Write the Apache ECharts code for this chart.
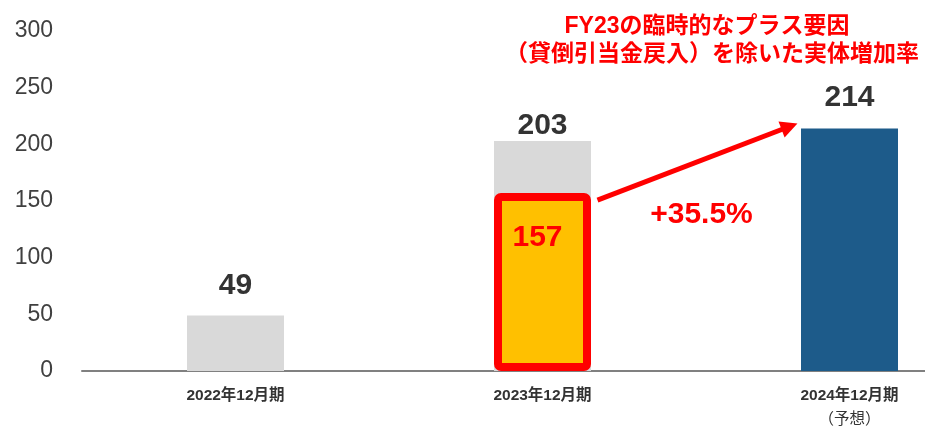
<!DOCTYPE html>
<html lang="ja">
  <head>
    <meta charset="utf-8" />
    <script type="text/javascript" src="https://cdn.jsdelivr.net/npm/echarts@6/dist/echarts.min.js"></script>
    <title>実体増加率</title>
    <style>
      html, body { margin: 0; padding: 0; background: #fff; }
      #chart { width: 925px; height: 426px; }
    </style>
  </head>
  <body>
    <div id="chart"></div>
    <script>
      // values
      var categories = ['2022年12月期', '2023年12月期', '2024年12月期']
      var subLabels = ['', '', '（予想）']
      var reported = [49, 203, 214]
      var adjusted = ['-', 157, '-']
      var growthText = '+35.5%'
      var noteLines = ['FY23の臨時的なプラス要因', '（貸倒引当金戻入）を除いた実体増加率']

      var FONT = '"Liberation Sans", Arial, "Noto Sans CJK JP", sans-serif'
      var barColors = ['#d9d9d9', '#d9d9d9', '#1d5b8a']
      var labelDist = [15, 0, 16]

      window.onload = function () {
        var chart = echarts.init(document.getElementById('chart'))
        chart.setOption({
          animation: false,
          // the category bands run past the right edge in the original
          grid: { left: 82, top: 31, width: 921, bottom: 55, outerBoundsMode: 'none', containLabel: false },
          xAxis: {
            type: 'category',
            data: categories,
            axisLine: { lineStyle: { color: '#808080', width: 2 } },
            axisTick: { show: false },
            axisLabel: {
              margin: 13,
              formatter: function (v, i) {
                return subLabels[i] ? '{a|' + v + '}\n{b|' + subLabels[i] + '}' : '{a|' + v + '}'
              },
              rich: {
                a: { fontFamily: FONT, fontSize: 15.5, fontWeight: 'bold', color: '#333', lineHeight: 24 },
                b: { fontFamily: FONT, fontSize: 15.5, color: '#333', lineHeight: 24 }
              }
            }
          },
          yAxis: {
            type: 'value',
            min: 0,
            max: 300,
            interval: 50,
            axisLine: { show: false },
            axisTick: { show: false },
            splitLine: { show: false },
            axisLabel: { margin: 29, fontFamily: FONT, fontSize: 23, color: '#404040' }
          },
          series: [
            {
              type: 'bar',
              barWidth: 97,
              barGap: '-100%',
              data: reported.map(function (v, i) {
                return {
                  value: v,
                  itemStyle: { color: barColors[i] },
                  label: { distance: labelDist[i] }
                }
              }),
              label: {
                show: true,
                position: 'top',
                fontFamily: FONT,
                fontSize: 30,
                fontWeight: 'bold',
                color: '#333'
              }
            },
            {
              type: 'bar',
              barWidth: 97,
              barGap: '-100%',
              data: adjusted,
              itemStyle: { color: '#ffc000', borderColor: '#ff0000', borderWidth: 8, borderRadius: 3 },
              label: {
                show: true,
                position: 'insideTop',
                offset: [-5, 25],
                fontFamily: FONT,
                fontSize: 30,
                fontWeight: 'bold',
                color: '#ff0000'
              }
            }
          ]
        })

        // arrow from the adjusted FY23 bar to the FY24 bar, placed via the axes
        var p0 = chart.convertToPixel({ seriesIndex: 1 }, [1, adjusted[1]])
        var p1 = chart.convertToPixel({ seriesIndex: 0 }, [2, reported[2]])
        var a = [p0[0] + 55, p0[1] + 7]
        var b = [p1[0] - 60, p1[1] - 2]
        var mid = [(a[0] + b[0]) / 2, (a[1] + b[1]) / 2]

        chart.setOption({
          series: [{}, {
            markLine: {
              silent: true,
              symbol: ['none', 'triangle'],
              symbolSize: [17, 17],
              label: { show: false },
              lineStyle: { color: '#ff0000', width: 5, type: 'solid' },
              data: [[{ x: a[0], y: a[1] }, { x: b[0], y: b[1] }]]
            }
          }],
          graphic: [
            {
              type: 'text',
              x: mid[0] + 8,
              y: mid[1] + 51,
              style: {
                text: growthText,
                font: 'bold 30px ' + FONT,
                fill: '#ff0000',
                textAlign: 'center',
                textVerticalAlign: 'middle'
              }
            },
            {
              type: 'text',
              x: 707,
              y: 27,
              style: {
                text: noteLines[0],
                font: 'bold 23px ' + FONT,
                fill: '#ff0000',
                textAlign: 'center',
                textVerticalAlign: 'middle'
              }
            },
            {
              type: 'text',
              x: 712,
              y: 55,
              style: {
                text: noteLines[1],
                font: 'bold 23px ' + FONT,
                fill: '#ff0000',
                textAlign: 'center',
                textVerticalAlign: 'middle'
              }
            }
          ]
        })
      }
    </script>
  </body>
</html>
